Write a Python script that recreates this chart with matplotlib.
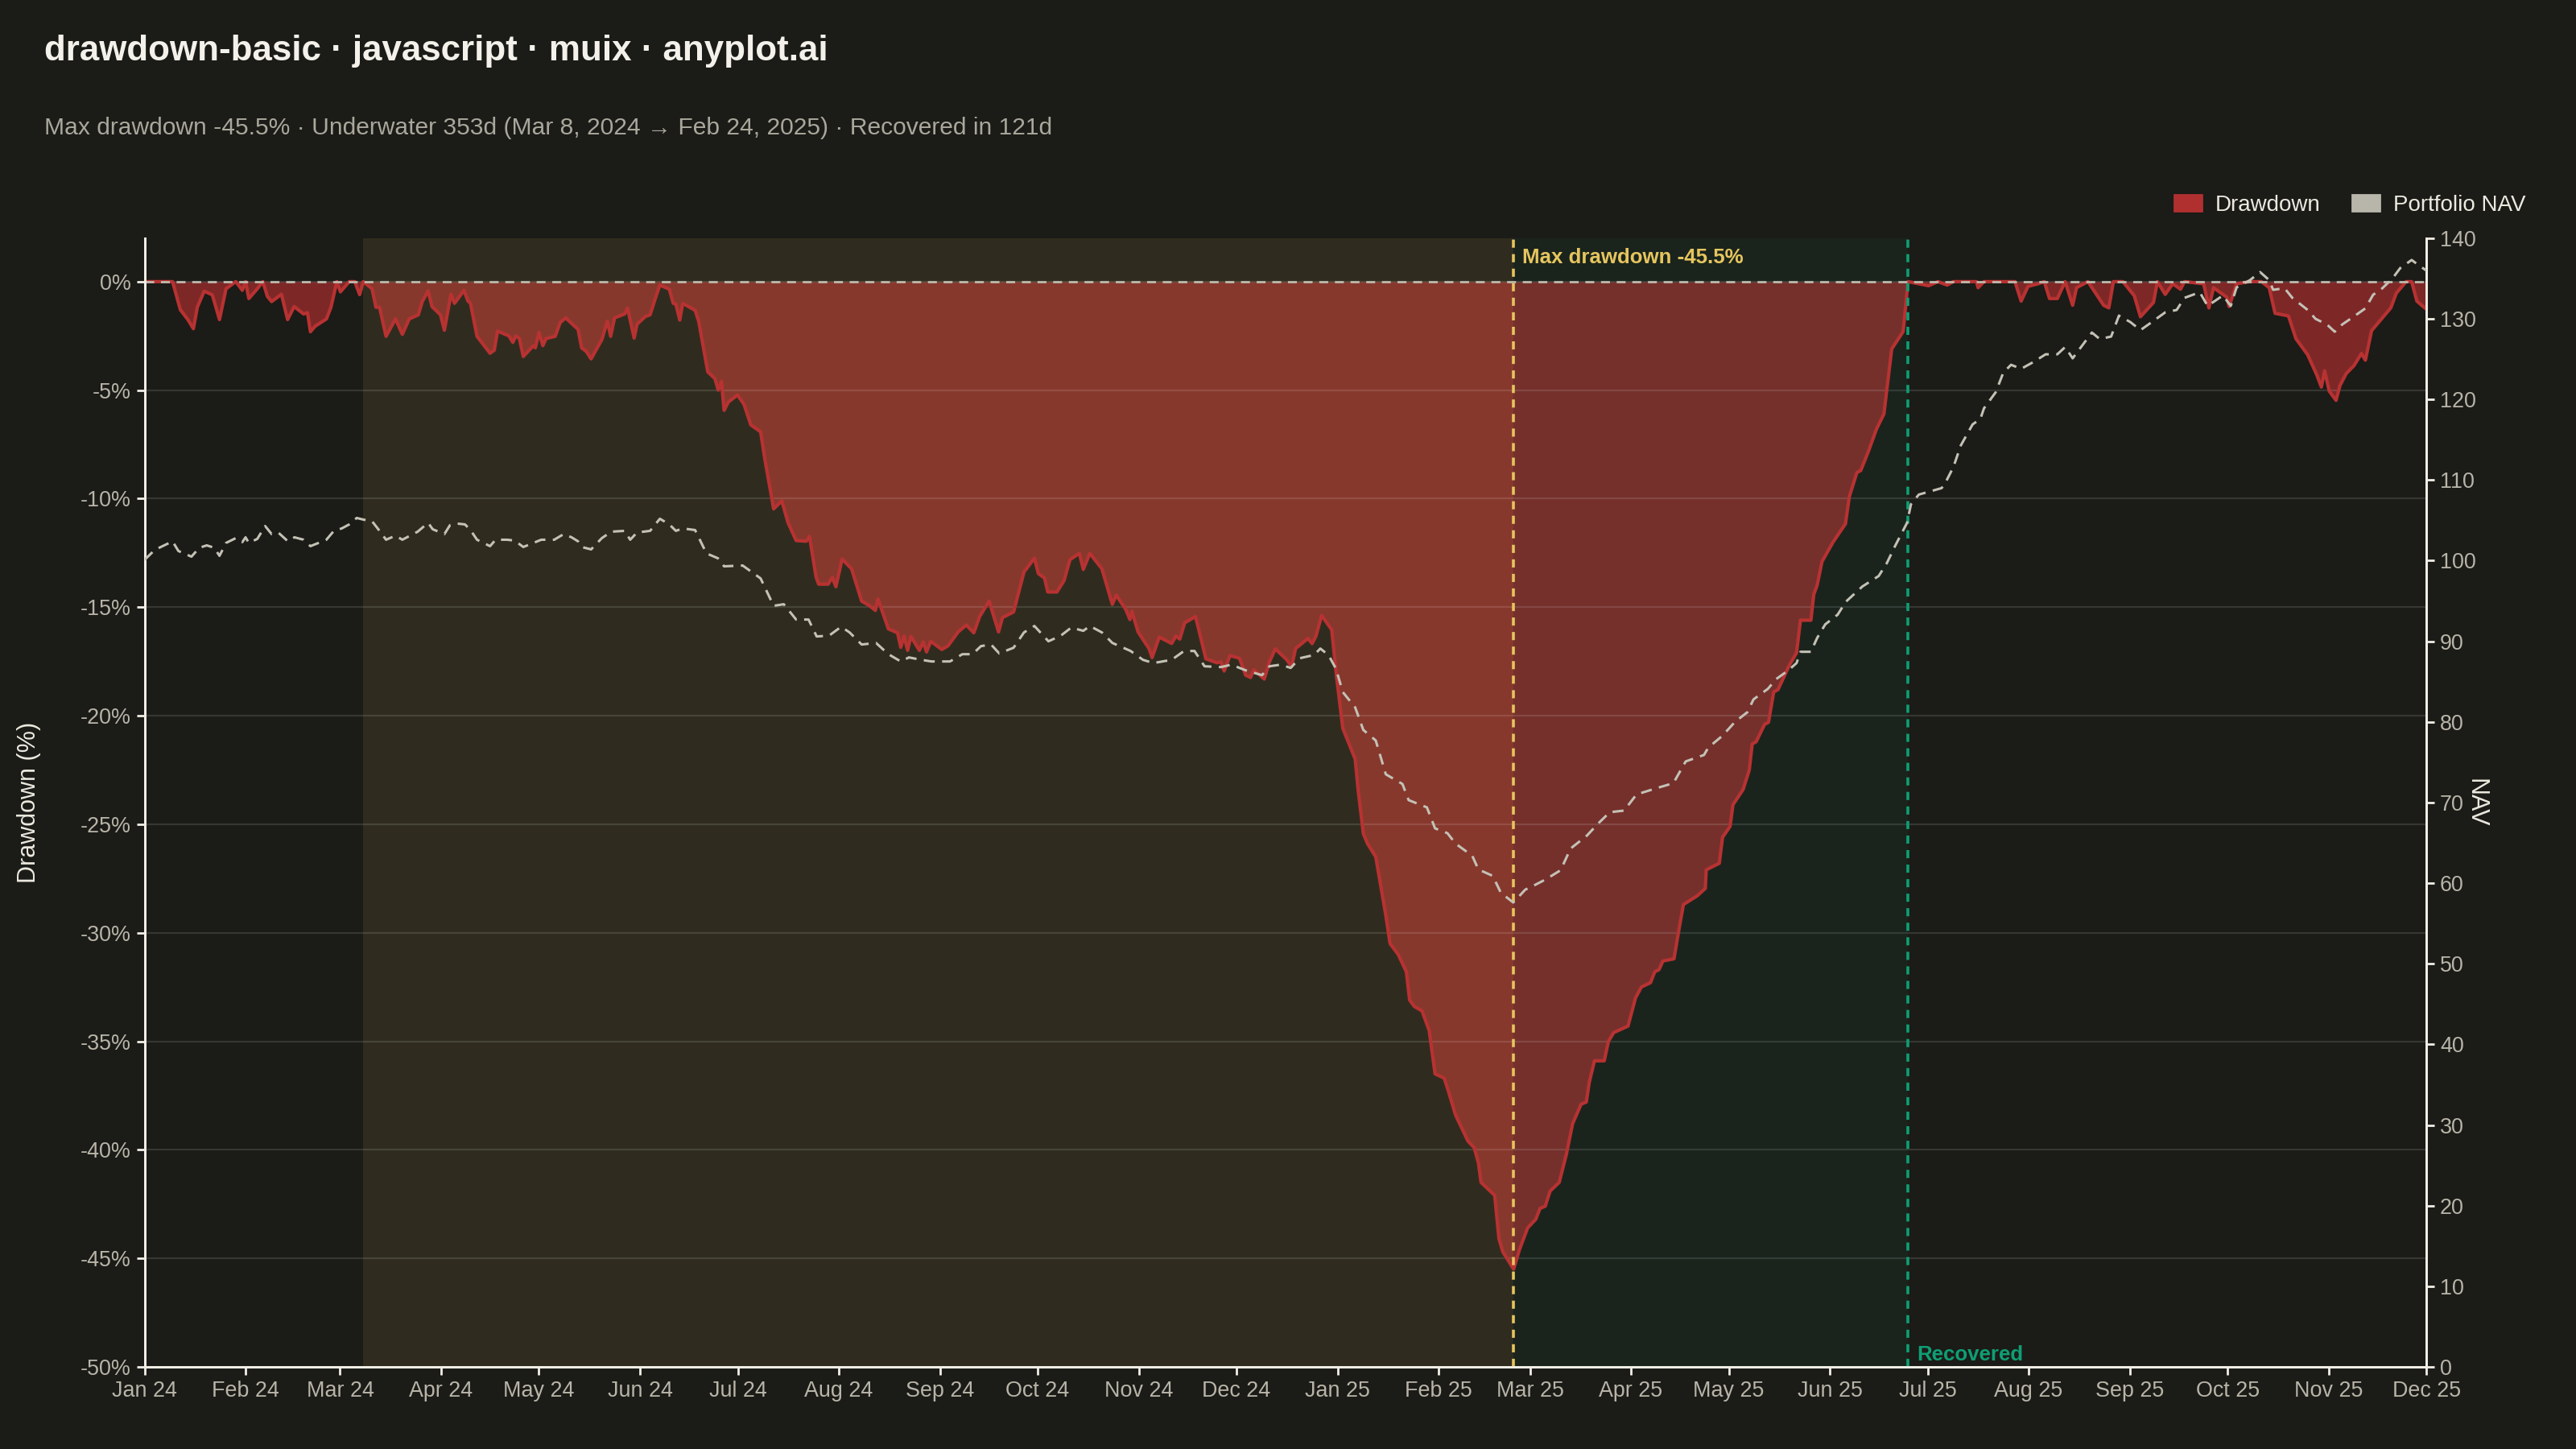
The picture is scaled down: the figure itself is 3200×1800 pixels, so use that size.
import numpy as np
import matplotlib
matplotlib.use("Agg")
import matplotlib.pyplot as plt
import matplotlib.dates as mdates
from matplotlib.patches import Patch

plt.rcParams['font.family'] = ['Liberation Sans', 'DejaVu Sans']

# dates of the drawdown episode
start_date = np.datetime64('2024-01-01')
end_date = np.datetime64('2025-12-01')
peak_date = np.datetime64('2024-03-08')
trough_date = np.datetime64('2025-02-24')
recovery_date = np.datetime64('2025-06-25')
max_dd = -45.5

# drawdown (%), x = days since 2024-01-01
dd_day = [0, 8.6, 11, 13.3, 15, 16.2, 18.3, 20.8, 23, 25, 28, 30, 31, 32, 34.6, 36.3, 37.7, 39, 42, 43.9,
          45.9, 48.8, 50, 50.9, 52.3, 55.8, 57.2, 59, 60.1, 62.8, 64.5, 66, 67.1, 69.8, 71, 72.1, 74.1, 77,
          79.1, 81.2, 84, 85.2, 87, 88.2, 90.8, 92, 94, 95.1, 98, 99.2, 100, 102, 106, 107.3, 108.3, 111.8,
          113, 113.9, 115, 116.2, 119.3, 119.9, 121, 122.2, 123.2, 126, 127.5, 129.2, 133, 134.1, 135.6,
          137, 140.3, 142, 143, 144.2, 147.3, 148.2, 150.2, 151.1, 153.7, 155.1, 156.6, 158.1, 161, 162.2,
          163, 164.2, 165.1, 168.9, 170, 172.8, 175, 176, 177, 177.8, 179.1, 181.9, 183.9, 186, 189, 190.4,
          193, 195.5, 197.4, 199.9, 203, 204, 206, 206.8, 209.7, 211, 212.1, 212.9, 214, 216.9, 220, 222.5,
          224.2, 225, 228.2, 231, 232, 233, 234.1, 235.1, 237.7, 238.9, 239.9, 241.2, 244.6, 246.5, 249.6,
          252.1, 254.4, 256.2, 259.1, 262, 263.2, 266.6, 269.8, 273, 274.2, 276.1, 277.1, 279.9, 282.1,
          283.9, 286.8, 288, 290, 293.7, 296.9, 298.1, 301, 302.3, 302.9, 304.8, 308.2, 309.1, 311.3, 315.1,
          316.4, 317.6, 319.1, 322.4, 323.7, 325.6, 329, 330.2, 331.2, 333, 335.9, 337.8, 339.3, 340.3,
          343.5, 345.1, 346.9, 350.4, 351.9, 353.1, 356.9, 358.2, 359.4, 361.1, 364.2, 365.7, 367.6, 371.4,
          372.3, 373.9, 375.2, 377.7, 380.8, 382.1, 384.6, 387.1, 388.1, 389.6, 391.9, 394.1, 395.9, 398.7,
          400, 402.2, 406, 407.9, 409.2, 410, 414.2, 415.5, 416.7, 420, 421.8, 424.3, 426.8, 428.1, 429.7,
          431.2, 434, 436.2, 438.1, 440.7, 442.3, 443.2, 444.8, 447.8, 449.1, 450.7, 455.1, 457.4, 459.2,
          462, 463.3, 464.6, 465.8, 469.2, 470.9, 472.1, 476.3, 478.8, 479.1, 483.1, 484.1, 486.4, 487.3,
          490.4, 492.3, 493.2, 494.4, 497, 498.2, 499.8, 501.1, 504.5, 506.8, 508, 511.2, 512.1, 513.1,
          514.6, 518, 521.8, 523, 525.3, 526.5, 528.9, 531.3, 533.6, 536, 539.5, 541, 547.3, 550.2, 553,
          554.9, 562, 562.5, 564.3, 573.8, 575.7, 577.8, 580.9, 582.8, 584.4, 586.8, 589.2, 591.5, 592.7,
          596.2, 601, 602.6, 604, 606.9, 610.4, 612.3, 616.3, 617.5, 619.9, 622.2, 624.6, 625.8, 631.7,
          633.3, 634.7, 638.8, 639.5, 641.8, 645.9, 649.4, 651.8, 653.6, 657.7, 660, 663.6, 666.4, 667.8,
          668.8, 670.2, 672.3, 673.5, 675.4, 677.8, 680.1, 681.3, 683.2, 686.7, 689.1, 690.8, 693.8, 695.5,
          697.1, 700]
dd_pct = [0, 0, -1.3, -1.75, -2.17, -1.18, -0.44, -0.61, -1.75, -0.33, 0, -0.4, 0, -0.78, -0.33, 0, -0.68,
          -0.92, -0.58, -1.75, -1.15, -1.49, -1.43, -2.31, -2.06, -1.72, -1.18, 0, -0.47, 0, 0, -0.6, 0,
          -0.33, -1.18, -1.18, -2.52, -1.72, -2.43, -1.72, -1.53, -0.92, -0.43, -1.15, -1.53, -2.24, -0.58,
          -1.0, -0.4, -0.89, -1.0, -2.52, -3.3, -3.16, -2.28, -2.5, -2.8, -2.5, -2.62, -3.45, -2.95, -3.05,
          -2.34, -2.95, -2.62, -2.52, -1.89, -1.67, -2.2, -3.05, -3.23, -3.56, -2.67, -1.82, -2.52, -1.67,
          -1.49, -1.22, -2.6, -1.96, -1.6, -1.53, -0.82, -0.16, -0.35, -1.0, -1.04, -1.77, -1.0, -1.32,
          -1.82, -4.16, -4.47, -5.0, -4.6, -5.93, -5.55, -5.22, -5.65, -6.6, -6.92, -8.27, -10.47, -10.1,
          -11.1, -11.93, -11.96, -11.74, -13.6, -13.94, -13.94, -13.63, -14.06, -13.52, -12.78, -13.23,
          -14.72, -14.94, -15.15, -14.62, -16.0, -16.18, -16.85, -16.33, -16.99, -16.35, -16.99, -16.6,
          -17.06, -16.57, -16.95, -16.78, -16.14, -15.82, -16.18, -15.43, -14.72, -16.14, -15.48, -15.22,
          -13.38, -12.74, -13.45, -13.66, -14.3, -14.3, -13.77, -12.81, -12.52, -13.26, -12.52, -13.23,
          -14.87, -14.44, -15.1, -15.57, -15.19, -16.14, -16.92, -17.32, -16.38, -16.67, -16.33, -16.47,
          -15.72, -15.43, -16.21, -17.38, -17.56, -17.52, -17.94, -17.23, -17.35, -18.13, -18.24, -17.89,
          -18.31, -17.52, -16.92, -17.42, -17.74, -16.91, -16.44, -16.68, -16.32, -15.38, -16.04, -18.22,
          -20.58, -22.0, -23.42, -25.43, -25.9, -26.5, -29.2, -30.5, -31.0, -31.8, -33.1, -33.4, -33.6,
          -34.5, -36.5, -36.7, -37.3, -38.4, -39.6, -39.9, -40.6, -41.5, -42.1, -44.1, -44.7, -45.5, -44.6,
          -43.6, -43.2, -42.7, -42.6, -41.9, -41.5, -40.2, -38.8, -37.9, -37.8, -36.9, -35.9, -35.9, -35.0,
          -34.6, -34.3, -33.0, -32.5, -32.3, -31.8, -31.7, -31.3, -31.2, -29.7, -28.7, -28.3, -27.96, -27.1,
          -26.8, -25.6, -25.1, -24.1, -23.4, -22.5, -21.3, -21.2, -20.4, -20.3, -18.9, -18.8, -17.7, -17.1,
          -15.6, -15.6, -14.4, -14.0, -12.9, -12.0, -11.16, -9.9, -8.8, -8.7, -7.8, -6.8, -6.1, -3.1, -2.3,
          0, -0.19, 0, -0.16, 0, 0, -0.28, 0, 0, -0.9, -0.22, -0.1, 0, -0.78, -0.78, 0, -1.09, -0.28, 0,
          -1.09, -1.21, 0, 0, -0.65, -1.62, -0.96, 0, -0.59, -0.1, -0.35, 0, -0.1, -1.21, -0.28, -0.72,
          -1.15, -0.1, 0, 0, -0.28, -1.46, -1.58, -2.63, -3.37, -4.3, -4.86, -4.11, -5.04, -5.47, -4.79,
          -4.24, -3.87, -3.31, -3.62, -2.26, -1.64, -1.21, -0.53, 0, 0, -0.9, -1.27]

# portfolio NAV
nav_day = [0, 2.8, 4.5, 8.6, 10.4, 14.4, 16.8, 19.1, 21.4, 23, 25, 28, 30, 31, 32, 34.6, 37, 39, 41, 44, 46,
           48.8, 50.9, 55.8, 58.1, 60.5, 62.8, 65.1, 67.1, 69.8, 72.1, 74.1, 77, 79.1, 83.8, 87, 88.4, 92,
           93.7, 96, 98.3, 100, 102, 106, 107.7, 111.2, 113.5, 116.2, 119.3, 121.7, 125.7, 128.6, 131, 133,
           134.1, 137, 140.3, 143.2, 147.3, 149, 151.1, 155.1, 158.1, 161, 163, 165.1, 168.9, 170.6, 172.4,
           175.9, 177.8, 183.5, 189, 193, 196.1, 199.9, 203.7, 206.2, 210, 213.7, 216.3, 220, 224.4, 228.2,
           232, 234.5, 238.3, 241.4, 247.1, 250.9, 254, 256.6, 259.7, 262.2, 266.6, 269.8, 273, 277.3,
           281.1, 284.3, 288, 290, 293.7, 296.9, 302.5, 306.3, 309.5, 315.1, 318.9, 322.1, 325.2, 330.2,
           333.4, 337.8, 342.8, 345.1, 348.5, 351.6, 354.4, 358.8, 360.7, 363.2, 365.5, 367.6, 371.4, 373.9,
           377.7, 380.8, 385.9, 387.8, 393.4, 395.9, 399.7, 402.2, 407.3, 409.2, 413.6, 416.1, 419.9, 423.6,
           426.2, 430, 434.4, 437.5, 442.5, 445.7, 449.5, 453.9, 457.7, 464, 469, 472.8, 478.4, 479.7,
           484.1, 487.9, 491.7, 493.6, 498, 500.5, 504.3, 506.8, 508, 511.2, 513.1, 515.6, 519.4, 521.9,
           527, 532, 534.5, 537, 540.7, 541.9, 544.3, 551.3, 552.5, 554.9, 557.2, 560.8, 563.2, 564.3,
           567.9, 570.2, 572.6, 575.7, 579.7, 583.2, 586.8, 589.2, 591.5, 597.4, 599.8, 603.3, 605.7, 609.2,
           612.3, 615.1, 619.9, 623.4, 625.8, 630.5, 632.9, 637.6, 640, 641.8, 645.9, 649, 651.8, 653,
           656.5, 658.9, 663.6, 666, 669.5, 671.9, 674.2, 677.8, 681.3, 683.7, 686, 689.6, 692, 695.5,
           697.8, 700]
nav_val = [100.1, 101.2, 101.6, 102.4, 101.2, 100.5, 101.6, 101.9, 101.6, 100.6, 102.2, 102.8, 102.3, 102.9,
           102.2, 102.7, 104.3, 103.3, 103.5, 102.4, 102.9, 102.6, 101.8, 102.6, 103.7, 104.0, 104.5, 105.3,
           105.1, 104.9, 103.7, 102.6, 103.1, 102.6, 103.6, 104.7, 103.9, 103.3, 104.4, 104.6, 104.5, 103.8,
           102.6, 101.8, 102.6, 102.6, 102.5, 101.7, 102.2, 102.6, 102.6, 103.3, 102.9, 102.4, 101.7, 101.4,
           102.8, 103.6, 103.7, 102.6, 103.5, 103.7, 105.2, 104.5, 103.7, 104.0, 103.8, 102.4, 100.9, 100.3,
           99.3, 99.4, 97.8, 94.4, 94.6, 92.7, 92.7, 90.6, 90.7, 91.8, 91.1, 89.6, 89.8, 88.4, 87.5, 88.0,
           87.7, 87.5, 87.5, 88.4, 88.4, 89.4, 89.6, 88.5, 89.2, 91.1, 91.9, 90.0, 90.7, 91.7, 91.3, 91.9,
           91.1, 89.8, 88.8, 87.7, 87.3, 87.7, 88.8, 88.8, 86.9, 86.8, 87.1, 86.4, 85.8, 86.9, 87.1, 86.7,
           87.9, 88.3, 89.1, 88.3, 86.6, 83.7, 81.8, 79.0, 77.7, 73.5, 72.3, 70.3, 69.4, 66.8, 66.2, 64.9,
           63.4, 61.7, 60.9, 58.8, 57.6, 59.2, 59.7, 60.5, 61.6, 64.3, 65.9, 67.3, 68.8, 69.0, 71.0, 71.8,
           72.4, 75.1, 75.9, 76.8, 78.3, 80.0, 81.2, 82.8, 84.1, 85.3, 86.4, 87.3, 88.7, 88.7, 90.4, 92.1,
           93.3, 94.9, 96.8, 98.1, 99.7, 101.8, 104.7, 107.0, 108.2, 109.0, 109.7, 111.6, 114.3, 116.9,
           117.6, 118.9, 120.9, 123.3, 124.3, 123.8, 124.7, 125.6, 125.6, 126.5, 125.1, 128.3, 127.5, 127.8,
           130.4, 129.6, 128.6, 129.4, 130.8, 131.1, 132.6, 133.3, 131.6, 132.9, 131.6, 133.9, 134.8, 135.8,
           134.8, 133.6, 133.8, 132.6, 131.1, 130.0, 129.3, 128.4, 129.3, 130.3, 131.3, 133.0, 133.6, 135.0,
           136.3, 137.3, 136.6, 136.0]

BG = '#1b1b17'
RED = '#c03232'
RED_LINE = '#b83232'
NAV_C = '#c4c1b5'
YELLOW = '#e6c55e'
GREEN = '#0f9e74'
TXT = '#ece9df'
TICK = '#b8b4a8'

t0 = mdates.date2num(start_date)
dd_x = t0 + np.array(dd_day)
nav_x = t0 + np.array(nav_day)
peak_x = mdates.date2num(peak_date)
trough_x = mdates.date2num(trough_date)
rec_x = mdates.date2num(recovery_date)

fig = plt.figure(figsize=(16, 9), dpi=200, facecolor=BG)
ax = fig.add_axes([0.0561, 0.0567, 0.8858, 0.7789])
ax.set_facecolor(BG)

ax.fill_between(dd_x, dd_pct, 0, color=RED, alpha=0.6, linewidth=0, zorder=2)
ax.axvspan(peak_x, trough_x, color='#e6c76a', alpha=0.1, linewidth=0, zorder=3)
ax.axvspan(trough_x, rec_x, color=GREEN, alpha=0.07, linewidth=0, zorder=3)
ax.plot(dd_x, dd_pct, color=RED_LINE, linewidth=1.5, zorder=4)
ax.axhline(0, color='#bdb9ad', linewidth=1.0, dashes=(4, 3), zorder=5)
ax.axvline(trough_x, color=YELLOW, linewidth=1.3, dashes=(2.8, 2.2), zorder=6)
ax.axvline(rec_x, color=GREEN, linewidth=1.3, dashes=(2.8, 2.2), zorder=6)

ax.annotate(f'Max drawdown {max_dd:.1f}%', xy=(trough_x, 1), xycoords=('data', 'axes fraction'),
            xytext=(4, -4.5), textcoords='offset points', ha='left', va='top',
            color=YELLOW, fontsize=9.3, fontweight='bold', zorder=7)
ax.annotate('Recovered', xy=(rec_x, 0), xycoords=('data', 'axes fraction'),
            xytext=(4, 1), textcoords='offset points', ha='left', va='bottom',
            color=GREEN, fontsize=9.3, fontweight='bold', zorder=7)

ax.set_xlim(t0, mdates.date2num(end_date))
ax.set_ylim(-50, 2)
ax.set_yticks(np.arange(-50, 1, 5))
ax.set_yticklabels([f'{v}%' for v in range(-50, 1, 5)])
ax.grid(axis='y', color='white', alpha=0.12, linewidth=0.8, zorder=4.5)
ax.set_axisbelow(False)
ax.xaxis.set_major_locator(mdates.MonthLocator())
ax.xaxis.set_major_formatter(mdates.DateFormatter('%b %y'))

ax2 = ax.twinx()
ax2.plot(nav_x, nav_val, color=NAV_C, linewidth=1.1, dashes=(4.5, 3), zorder=5)
ax2.set_ylim(0, 140)
ax2.set_yticks(np.arange(0, 141, 10))

for a in (ax, ax2):
    a.spines['top'].set_visible(False)
    for side in ('left', 'right', 'bottom'):
        a.spines[side].set_color('#f2efe6')
        a.spines[side].set_linewidth(1.0)
    a.tick_params(colors='#f2efe6', labelcolor=TICK, labelsize=9.7, length=3.6, width=1.0, pad=2.5)

ax.set_ylabel('Drawdown (%)', color=TXT, fontsize=11, va='center')
ax.yaxis.set_label_coords(-0.0505, 0.5)
ax2.set_ylabel('NAV', color=TXT, fontsize=11, rotation=270, va='center')
ax2.yaxis.set_label_coords(1.0215, 0.5)

fig.text(0.0172, 0.9645, 'drawdown-basic · javascript · muix · anyplot.ai', color='#f3f1ea',
         fontsize=15.8, fontweight='bold', va='center', ha='left')
fig.text(0.0172, 0.9115, 'Max drawdown -45.5% · Underwater 353d (Mar 8, 2024 → Feb 24, 2025) · Recovered in 121d',
         color='#aaa79c', fontsize=10.8, va='center', ha='left')

handles = [Patch(color='#b03030', label='Drawdown'), Patch(color='#b8b6ab', label='Portfolio NAV')]
fig.legend(handles=handles, loc='center right', bbox_to_anchor=(0.9805, 0.8585), ncol=2, frameon=False,
           fontsize=10, labelcolor=TXT, handlelength=1.25, handleheight=0.7, handletextpad=0.6,
           columnspacing=1.4, borderpad=0, borderaxespad=0)

fig.savefig('out.png', dpi=200, facecolor=BG)
